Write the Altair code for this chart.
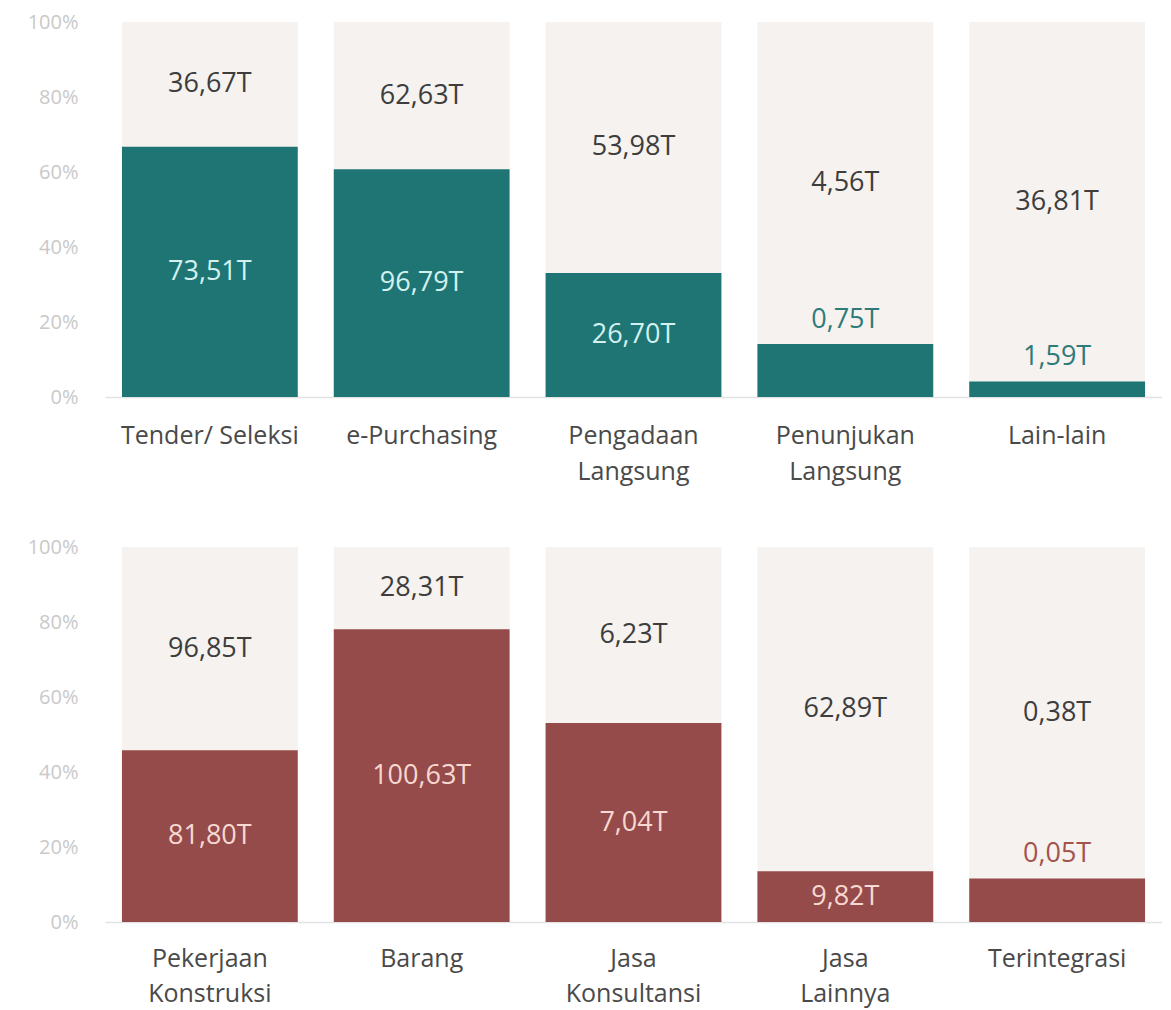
import altair as alt
import pandas as pd

# ---- data ----
top_categories = ["Tender/ Seleksi", "e-Purchasing", "Pengadaan\nLangsung",
                  "Penunjukan\nLangsung", "Lain-lain"]
top_share_values = [73.51, 96.79, 26.70, 0.75, 1.59]
top_rest_values = [36.67, 62.63, 53.98, 4.56, 36.81]

bottom_categories = ["Pekerjaan\nKonstruksi", "Barang", "Jasa\nKonsultansi",
                     "Jasa\nLainnya", "Terintegrasi"]
bottom_share_values = [81.80, 100.63, 7.04, 9.82, 0.05]
bottom_rest_values = [96.85, 28.31, 6.23, 62.89, 0.38]

y_ticks = [0, 0.2, 0.4, 0.6, 0.8, 1.0]

FONT = "Open Sans"
BG = "#f5f2ef"


def panel(cats, share, rest, bar_color, inside_color, outside_color,
          x_extent, x_pad, line_h):
    df = pd.DataFrame({"cat": cats, "share": share, "rest": rest})
    base = alt.Chart(df).transform_calculate(
        frac="datum.share / (datum.share + datum.rest)",
        one="1",
        top_mid="(1 + datum.share / (datum.share + datum.rest)) / 2",
        bar_mid="datum.share / (datum.share + datum.rest) / 2",
        share_label="replace(format(datum.share, '.2f'), '.', ',') + 'T'",
        rest_label="replace(format(datum.rest, '.2f'), '.', ',') + 'T'",
    )
    x = alt.X(
        "cat:N", sort=cats, title=None,
        scale=alt.Scale(paddingInner=0.17, paddingOuter=0.08),
        axis=alt.Axis(
            labelAngle=0, labelExpr="split(datum.label, '\\n')",
            labelFont=FONT, labelFontSize=25, labelColor="#4a4a4a",
            labelLineHeight=line_h, labelPadding=x_pad, labelBaseline="top",
            ticks=False, domain=True, domainColor="#e2e2e2", domainWidth=1.5,
            minExtent=x_extent, maxExtent=x_extent, grid=False,
        ),
    )
    yaxis = alt.Axis(
        values=y_ticks, format=".0%", title=None,
        labelFont=FONT, labelFontSize=20, labelColor="#c9c9c9",
        domain=False, ticks=False, grid=False, labelPadding=27,
        minExtent=97, maxExtent=97,
    )
    yscale = alt.Scale(domain=[0, 1], nice=False)

    bg = base.mark_bar(color=BG).encode(
        x=x, y=alt.Y("one:Q", scale=yscale, axis=yaxis))
    fg = base.mark_bar(color=bar_color).encode(
        x=x, y=alt.Y("frac:Q", scale=yscale, axis=yaxis))
    top_txt = base.mark_text(font=FONT, fontSize=27, color="#3d3d3d",
                             baseline="middle").encode(
        x=x, y=alt.Y("top_mid:Q", scale=yscale, axis=yaxis),
        text="rest_label:N")
    in_txt = base.transform_filter("datum.share >= 2").mark_text(
        font=FONT, fontSize=27, color=inside_color, baseline="middle").encode(
        x=x, y=alt.Y("bar_mid:Q", scale=yscale, axis=yaxis),
        text="share_label:N")
    out_txt = base.transform_filter("datum.share < 2").mark_text(
        font=FONT, fontSize=27, color=outside_color, baseline="middle",
        dy=-24).encode(
        x=x, y=alt.Y("frac:Q", scale=yscale, axis=yaxis),
        text="share_label:N")
    return alt.layer(bg, fg, top_txt, in_txt, out_txt).properties(
        width=1057, height=375)


top = panel(top_categories, top_share_values, top_rest_values,
            "#1f7574", "#d3f1ee", "#2e7b79", 110, 26, 36)
bottom = panel(bottom_categories, bottom_share_values, bottom_rest_values,
               "#954b49", "#f7d8d2", "#a3524e", 100, 24, 35)

chart = alt.vconcat(top, bottom, spacing=30).properties(
    padding={"left": 0, "top": 4, "right": 0, "bottom": 0}
).configure_view(stroke=None)

chart.save("out.html", embed_options={"renderer": "svg", "actions": False})
